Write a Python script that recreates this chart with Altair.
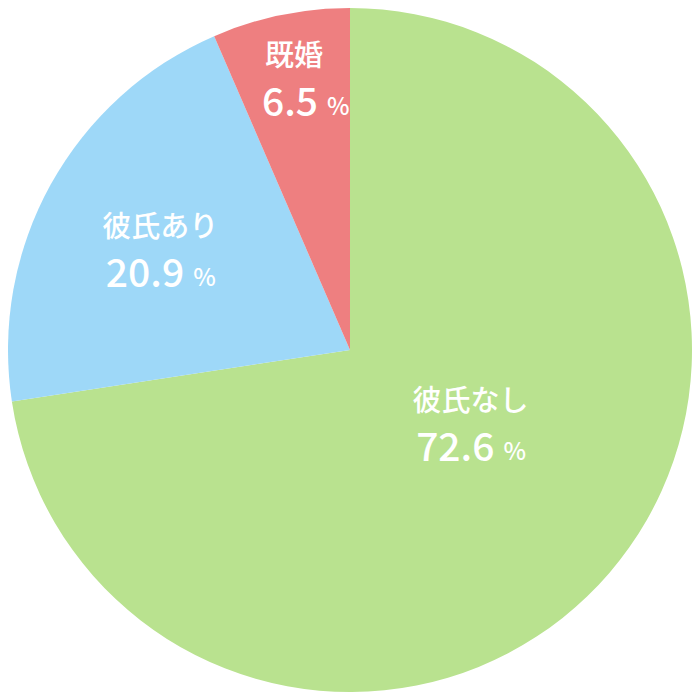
import altair as alt
import pandas as pd

categories = ["彼氏なし", "彼氏あり", "既婚"]
values = [72.6, 20.9, 6.5]
value_labels = ["72.6", "20.9", "6.5"]
colors = ["#b9e28f", "#9ed8f8", "#ee7f80"]

df = pd.DataFrame({
    "cat": categories,
    "value": values,
    "label": value_labels,
    "order": list(range(len(categories))),
})

pie = alt.Chart(df).mark_arc(outerRadius=342, stroke=None).encode(
    theta=alt.Theta("value:Q", stack=True),
    order=alt.Order("order:Q"),
    color=alt.Color("cat:N", scale=alt.Scale(domain=categories, range=colors), legend=None),
)

lab = alt.Chart(df).transform_window(
    cum="sum(value)", sort=[alt.SortField("order")]
).transform_joinaggregate(
    total="sum(value)"
).transform_calculate(
    adj="datum.cat == '彼氏なし' ? -8.7 : (datum.cat == '彼氏あり' ? -1.5 : 0)",
    r="datum.cat == '既婚' ? 276 : (datum.cat == '彼氏あり' ? 214 : 142)",
).transform_calculate(
    mid="(datum.cum - datum.value / 2) / datum.total * 2 * PI + datum.adj * PI / 180",
).encode(
    theta=alt.Theta("mid:Q", scale=None),
    radius=alt.Radius("r:Q", scale=None),
)

font = "Noto Sans CJK JP"
names = lab.mark_text(font=font, fontSize=29, fontWeight=500, color="white", dy=-23).encode(text="cat:N")
nums = lab.mark_text(font=font, fontSize=39, fontWeight=500, color="white", dy=24, align="right", dx=24).encode(text="label:N")
pct = lab.mark_text(font=font, fontSize=24, fontWeight=500, color="white", dy=28, align="left", dx=33).encode(text=alt.value("%"))

chart = alt.layer(pie, names, nums, pct).properties(
    width=684, height=684, padding=0, autosize=alt.AutoSizeParams(type="none")
).configure_view(stroke=None)

chart.save("out.html", embed_options={"renderer": "svg", "actions": False})
